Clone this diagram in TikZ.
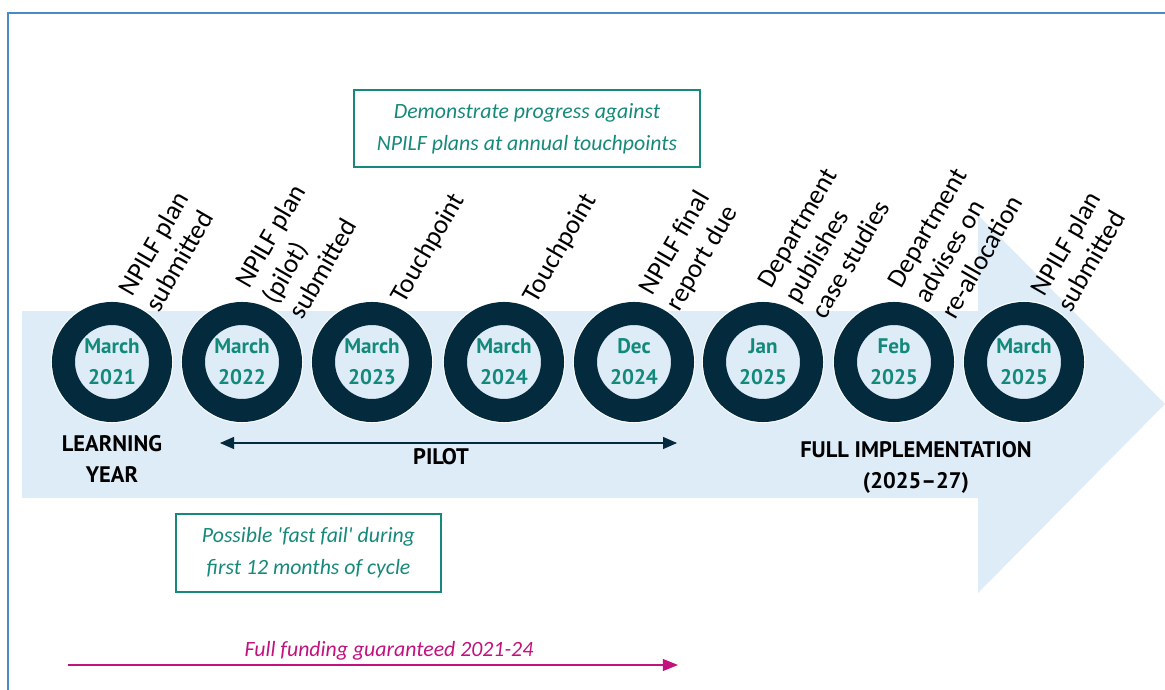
\documentclass[tikz,border=0pt]{standalone}
\usepackage{fontspec}
\setmainfont{Carlito}
\newfontfamily\dinfont[Ligatures=TeX]{PT Sans}
\usetikzlibrary{arrows.meta}
\definecolor{ringnavy}{HTML}{032B3D}
\definecolor{arrowbg}{HTML}{DEECF7}
\definecolor{dateteal}{HTML}{12897A}
\definecolor{boxteal}{HTML}{16897A}
\definecolor{frameblue}{HTML}{4A8AC6}
\definecolor{fundpink}{HTML}{C2127E}

\begin{document}
\begin{tikzpicture}[x=0.025cm, y=-0.025cm,
	ring/.style={circle, minimum size=2.425cm, inner sep=0pt, line width=0.575cm, draw=ringnavy, fill=arrowbg, preaction={draw=white, line width=0.63cm}, text=dateteal, align=center, font=\dinfont\bfseries\fontsize{15}{22}\selectfont},
	event/.style={rotate=60, anchor=west, inner sep=0pt, align=left, font=\fontsize{19}{22}\selectfont},
	phase/.style={align=center, font=\dinfont\bfseries\fontsize{16}{22}\selectfont},
	note/.style={draw=boxteal, line width=1.4pt, text=boxteal, align=center, font=\itshape\fontsize{15.5}{22.5}\selectfont}]
				\useasboundingbox (0,0) rectangle (1165,690);
				\draw[frameblue, line width=1.4pt] (8,690) -- (8,13) -- (1165,13);
				\fill[arrowbg] (22,311) -- (978,311) -- (978,215) -- (1165,404) -- (978,593) -- (978,498) -- (22,498) -- cycle;

				\node[ring] (M21)at(112, 362) {March\\2021};
				\node[ring] (M22)at(242, 362) {March\\2022};
				\node[ring] (M23)at(372, 362) {March\\2023};
				\node[ring] (M24)at(504, 362) {March\\2024};
				\node[ring] (D24)at(634, 362) {Dec\\2024};
				\node[ring] (J25)at(763, 362) {Jan\\2025};
				\node[ring] (F25)at(894, 362) {Feb\\2025};
				\node[ring] (M25)at(1024, 362) {March\\2025};

				\node[event] (E1)at(138, 301) {NPILF plan\\submitted};
				\node[event] (E2)at(268, 301) {NPILF plan\\(pilot)\\submitted};
				\node[event] (E3)at(398, 301) {Touchpoint};
				\node[event] (E4)at(530, 301) {Touchpoint};
				\node[event] (E5)at(660, 301) {NPILF final\\report due};
				\node[event] (E6)at(791, 301) {Department\\publishes\\case studies};
				\node[event] (E7)at(921, 301) {Department\\advises on\\re-allocation};
				\node[event] (E8)at(1050, 301) {NPILF plan\\submitted};

				\node[phase] (learn)at(112, 459) {LEARNING\\YEAR};
				\node[phase] (pilot)at(441, 457) {PILOT};
				\node[phase] (full)at(916, 467) {FULL IMPLEMENTATION\\(2025\textendash 27)};
				\coordinate (pilotL)at(220, 443);
				\coordinate (pilotR)at(677, 443);
				\draw[ringnavy, line width=0.9pt, {Triangle[length=0.35cm, width=0.3cm]}-{Triangle[length=0.35cm, width=0.3cm]}] (pilotL) -- (pilotR);

				\node[note, minimum width=8.65cm, minimum height=1.925cm] (demo)at(527, 128.5) {Demonstrate progress against\\NPILF plans at annual touchpoints};
				\node[note, minimum width=6.625cm, minimum height=1.95cm] (fail)at(308.5, 553) {Possible \textquotesingle fast fail\textquotesingle\ during\\first 12 months of cycle};

				\node[text=fundpink, font=\itshape\fontsize{15.5}{20}\selectfont] (fund)at(389, 651) {Full funding guaranteed 2021-24};
				\coordinate (fundL)at(68, 665);
				\coordinate (fundR)at(678, 665);
				\draw[fundpink, line width=0.9pt, -{Triangle[length=0.38cm, width=0.3cm]}] (fundL) -- (fundR);
			\end{tikzpicture}
\end{document}
